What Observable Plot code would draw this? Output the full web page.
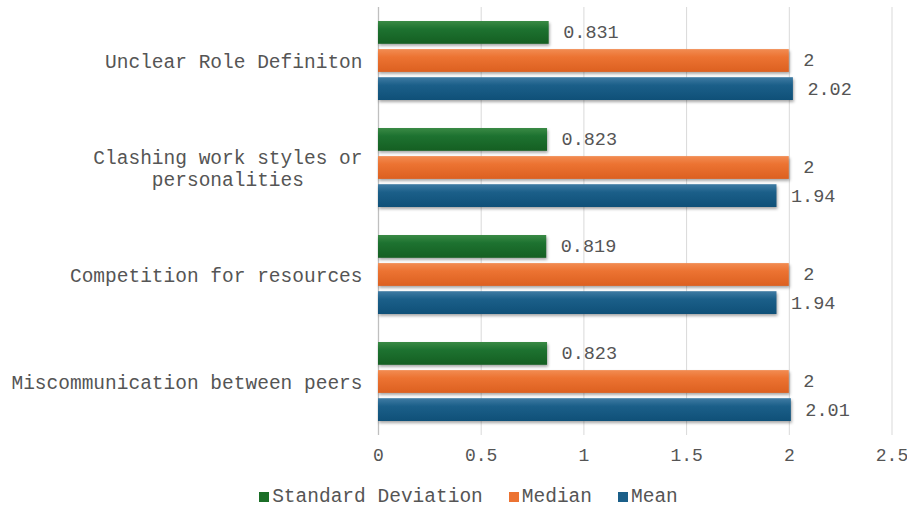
<!DOCTYPE html>
<html>
<head>
<meta charset="utf-8">
<script src="https://cdn.jsdelivr.net/npm/d3@7"></script>
<script src="https://cdn.jsdelivr.net/npm/@observablehq/plot@0.6"></script>
<style>
  html, body { margin: 0; padding: 0; background: #fff; overflow: hidden; }
  #chart svg text, #chart svg tspan { white-space: pre; }
  #chart g[aria-label="bar"] rect { filter: drop-shadow(1px 2px 1.5px rgba(0,0,0,0.35)); }
  .legend {
    display: flex; justify-content: center; align-items: center; gap: 26px;
    font-family: "Liberation Mono", monospace; font-size: 19.5px; color: #555;
    box-sizing: border-box; height: 39px; padding-top: 11px; margin-left: 30px;
  }
  .legend span.item { display: flex; align-items: center; }
  .legend i { display: inline-block; width: 10px; height: 10px; margin-right: 3px; }
</style>
</head>
<body>
<div id="chart"></div>
<script>
// Conflict sources, from top to bottom of the chart
const categories = [
  "Unclear Role Definiton",
  "Clashing work styles or personalities",
  "Competition for resources",
  "Miscommunication between peers"
];
// Label lines (monospace, second line padded so it sits centered under the first)
const categoryLabels = [
  "Unclear Role Definiton",
  "Clashing work styles or\n     personalities     ",
  "Competition for resources",
  "Miscommunication between peers"
];
const series = ["Standard Deviation", "Median", "Mean"];
const stdDev = [0.831, 0.823, 0.819, 0.823];
const median = [2, 2, 2, 2];
const mean = [2.02, 1.94, 1.94, 2.01];
const xTicks = [0, 0.5, 1, 1.5, 2, 2.5];
const seriesColors = ["#1b6e27", "#ec7332", "#1b5f89"];

const valuesBySeries = [stdDev, median, mean];
const rows = series.flatMap((s, i) =>
  categories.map((c, j) => ({series: s, category: c, value: valuesBySeries[i][j]}))
);

const font = "Liberation Mono, monospace";
const bandH = 79.2, barH = 23, slot = 28.1;

const barMarks = series.flatMap((s, i) => {
  const data = rows.filter(d => d.series === s);
  return [
    Plot.barX(data, {
      x: "value", y: "category",
      fill: `url(#grad${i})`,
      insetTop: i * slot,
      insetBottom: bandH - barH - i * slot
    }),
    Plot.text(data, {
      x: "value", y: "category", text: d => String(d.value),
      dy: (i - 1) * slot - 0.5, dx: 14, textAnchor: "start",
      fill: "#555", fontSize: 18.5, fontFamily: font
    })
  ];
});

const chart = Plot.plot({
  width: 907,
  height: 472,
  marginLeft: 378,
  marginRight: 15.5,
  marginTop: 7,
  marginBottom: 37,
  style: {fontFamily: font, fontSize: "18px", color: "#555", background: "#fff"},
  x: {domain: [0, 2.5], ticks: xTicks, tickFormat: d => String(d), tickSize: 0, tickPadding: 13, label: null},
  y: {domain: categories, paddingInner: 0.26, paddingOuter: 0.13, axis: null},
  marks: [
    Plot.gridX(xTicks.slice(1), {stroke: "#d9d9d9", strokeOpacity: 1}),
    Plot.ruleX([0], {stroke: "#bfbfbf", strokeWidth: 1.3}),
    ...barMarks,
    Plot.text(categories, {
      y: d => d, text: (d, i) => categoryLabels[i],
      frameAnchor: "left", dx: -16, textAnchor: "end", lineHeight: 1.1,
      fill: "#555", fontSize: 19.5, fontFamily: font
    })
  ]
});

// Vertical gradients giving the bars their rounded look
const stops = [
  ["#3a8a45", "#1d7230", "#155f22"],
  ["#f28c52", "#ec7332", "#dc6020"],
  ["#3f7ba3", "#1b5f89", "#0f5078"]
];
const ns = "http://www.w3.org/2000/svg";
const defs = document.createElementNS(ns, "defs");
stops.forEach((cs, i) => {
  const g = document.createElementNS(ns, "linearGradient");
  g.setAttribute("id", `grad${i}`);
  g.setAttribute("x1", "0"); g.setAttribute("y1", "0");
  g.setAttribute("x2", "0"); g.setAttribute("y2", "1");
  [[0, cs[0]], [0.35, cs[1]], [1, cs[2]]].forEach(([o, c]) => {
    const s = document.createElementNS(ns, "stop");
    s.setAttribute("offset", o); s.setAttribute("stop-color", c);
    g.appendChild(s);
  });
  defs.appendChild(g);
});
chart.insertBefore(defs, chart.firstChild);
document.getElementById("chart").appendChild(chart);

// Legend below the plot
const legend = document.createElement("div");
legend.className = "legend";
series.forEach((s, i) => {
  const item = document.createElement("span");
  item.className = "item";
  const sw = document.createElement("i");
  sw.style.background = seriesColors[i];
  item.appendChild(sw);
  item.appendChild(document.createTextNode(s));
  legend.appendChild(item);
});
document.getElementById("chart").appendChild(legend);
</script>
</body>
</html>
